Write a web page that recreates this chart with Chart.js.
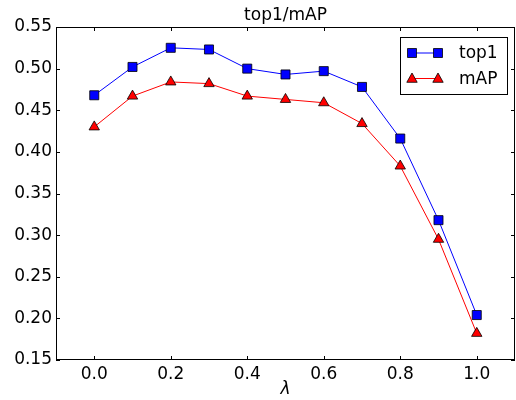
<!DOCTYPE html>
<html>
<head>
<meta charset="utf-8">
<script src="https://cdn.jsdelivr.net/npm/chart.js@4.4.0/dist/chart.umd.min.js"></script>
<style>
  body { margin: 0; background: #fff; }
  canvas { display: block; }
</style>
</head>
<body>
<canvas id="chart" width="516" height="400"></canvas>
<script>
// values
let lambdas = [0.0, 0.1, 0.2, 0.3, 0.4, 0.5, 0.6, 0.7, 0.8, 0.9, 1.0];
let top1 = [0.468, 0.502, 0.525, 0.523, 0.500, 0.493, 0.497, 0.478, 0.416, 0.318, 0.204];
let mAP = [0.430, 0.467, 0.484, 0.482, 0.467, 0.463, 0.459, 0.434, 0.383, 0.295, 0.182];
let xTicks = [0.0, 0.2, 0.4, 0.6, 0.8, 1.0];
let yTicks = [0.15, 0.20, 0.25, 0.30, 0.35, 0.40, 0.45, 0.50, 0.55];

const FONT = 'DejaVu Sans, sans-serif';

function toPoints(ys) {
  return lambdas.map((x, i) => ({ x: x, y: ys[i] }));
}

function drawMarker(ctx, style, x, y, color) {
  ctx.save();
  ctx.fillStyle = color;
  ctx.strokeStyle = '#000';
  ctx.lineWidth = 0.8;
  ctx.beginPath();
  if (style === 'rect') {
    ctx.rect(x - 4.5, y - 4.5, 9, 9);
  } else {
    ctx.moveTo(x, y - 5.5);
    ctx.lineTo(x + 5.2, y + 3.8);
    ctx.lineTo(x - 5.2, y + 3.8);
    ctx.closePath();
  }
  ctx.fill();
  ctx.stroke();
  ctx.restore();
}

// frame, inward ticks on all sides, title and legend like matplotlib classic
const framePlugin = {
  id: 'frame',
  afterDraw(chart) {
    let ctx = chart.ctx;
    let a = chart.chartArea;
    let xs = chart.scales.x, ys = chart.scales.y;
    ctx.save();
    ctx.strokeStyle = '#000';
    ctx.lineWidth = 1;
    ctx.strokeRect(a.left + 0.5, a.top + 0.5, a.right - a.left - 1, a.bottom - a.top - 1);
    ctx.beginPath();
    xTicks.forEach(v => {
      let px = Math.round(xs.getPixelForValue(v)) + 0.5;
      ctx.moveTo(px, a.bottom); ctx.lineTo(px, a.bottom - 4);
      ctx.moveTo(px, a.top); ctx.lineTo(px, a.top + 4);
    });
    yTicks.forEach(v => {
      let py = Math.round(ys.getPixelForValue(v)) + 0.5;
      ctx.moveTo(a.left, py); ctx.lineTo(a.left + 4, py);
      ctx.moveTo(a.right, py); ctx.lineTo(a.right - 4, py);
    });
    ctx.stroke();

    // title
    ctx.fillStyle = '#000';
    ctx.font = '17px ' + FONT;
    ctx.textAlign = 'center';
    ctx.textBaseline = 'alphabetic';
    ctx.fillText('top1/mAP', (a.left + a.right) / 2, a.top - 7);

    // legend
    let bx = a.right - 115, by = a.top + 10, bw = 107, bh = 57;
    ctx.fillStyle = '#fff';
    ctx.fillRect(bx, by, bw, bh);
    ctx.strokeRect(bx + 0.5, by + 0.5, bw, bh);
    chart.data.datasets.forEach((ds, i) => {
      let cy = by + 16 + i * 25.5;
      ctx.strokeStyle = ds.borderColor;
      ctx.lineWidth = 1;
      ctx.beginPath();
      ctx.moveTo(bx + 12, cy); ctx.lineTo(bx + 38, cy);
      ctx.stroke();
      drawMarker(ctx, ds.pointStyle, bx + 12, cy, ds.pointBackgroundColor);
      drawMarker(ctx, ds.pointStyle, bx + 38, cy, ds.pointBackgroundColor);
      ctx.fillStyle = '#000';
      ctx.textAlign = 'left';
      ctx.textBaseline = 'middle';
      ctx.fillText(ds.label, bx + 59, cy + 1);
    });
    ctx.restore();
  }
};

let ctx = document.getElementById('chart').getContext('2d');
let chart = new Chart(ctx, {
  type: 'line',
  data: {
    datasets: [{
      label: 'top1',
      data: toPoints(top1),
      borderColor: '#0000ff',
      borderWidth: 1,
      pointStyle: 'rect',
      pointRadius: 6.4,
      pointBackgroundColor: '#0000ff',
      pointBorderColor: '#000',
      pointBorderWidth: 0.8,
      fill: false,
    }, {
      label: 'mAP',
      data: toPoints(mAP),
      borderColor: '#ff0000',
      borderWidth: 1,
      pointStyle: 'triangle',
      pointRadius: 6,
      pointBackgroundColor: '#ff0000',
      pointBorderColor: '#000',
      pointBorderWidth: 0.8,
      fill: false,
    }]
  },
  options: {
    responsive: false,
    animation: false,
    layout: { autoPadding: false, padding: { left: 0, right: 1, top: 27, bottom: 0 } },
    plugins: {
      legend: { display: false },
      tooltip: { enabled: false },
      title: { display: false }
    },
    scales: {
      x: {
        type: 'linear',
        min: -0.1,
        max: 1.1,
        afterBuildTicks: s => { s.ticks = xTicks.map(v => ({ value: v })); },
        afterFit: s => { s.height = 40; s.paddingLeft = 0; s.paddingRight = 0; },
        grid: { display: false, drawTicks: false },
        border: { display: false },
        ticks: {
          padding: 4,
          color: '#000',
          font: { family: FONT, size: 17 },
          callback: v => v.toFixed(1)
        },
        title: {
          display: true,
          text: 'λ',
          color: '#000',
          font: { family: FONT, size: 17, style: 'italic' },
          padding: { top: 0, bottom: 0 }
        }
      },
      y: {
        type: 'linear',
        min: 0.15,
        max: 0.55,
        afterBuildTicks: s => { s.ticks = yTicks.map(v => ({ value: v })); },
        afterFit: s => { s.width = 56; s.paddingTop = 0; s.paddingBottom = 0; },
        grid: { display: false, drawTicks: false },
        border: { display: false },
        ticks: {
          padding: 4,
          color: '#000',
          font: { family: FONT, size: 17 },
          callback: v => v.toFixed(2)
        }
      }
    }
  },
  plugins: [framePlugin]
});
</script>
</body>
</html>
